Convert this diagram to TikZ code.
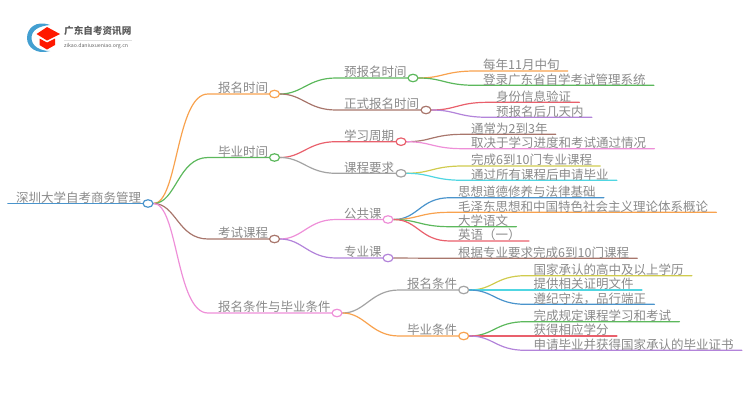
\documentclass[tikz,border=0pt]{standalone}
\usepackage{fontspec}
\setmainfont{Noto Sans CJK SC}
\usepackage{xcolor}
\usetikzlibrary{backgrounds,shapes.geometric,positioning}
\definecolor{lineblue}{HTML}{4A94CC}
\definecolor{lineorange}{HTML}{F8A24E}
\definecolor{linegreen}{HTML}{5CB85C}
\definecolor{linebrown}{HTML}{A8766C}
\definecolor{linered}{HTML}{E9606C}
\definecolor{linepurple}{HTML}{B384DA}
\definecolor{linepink}{HTML}{EE8FD8}
\definecolor{linegray}{HTML}{A3A3A3}
\definecolor{lineyellow}{HTML}{D0CB4E}
\definecolor{linecyan}{HTML}{50D6E2}
\definecolor{labelgray}{HTML}{8A8A8A}
\tikzset{
  topic/.style={font=\fontsize{12.5}{14}\selectfont, text=labelgray, anchor=south west, inner xsep=8, inner ysep=0, text height=11, text depth=1},
  hub/.style={ellipse, draw=#1, fill=white, line width=1.2, minimum width=10, minimum height=7.5, inner sep=0},
  link/.style={draw=#1, line width=1.2, line cap=round},
}
\begin{document}
\begin{tikzpicture}[x=1pt,y=-1pt]
\useasboundingbox (0,0) rectangle (750,410);

% logo
\node[inner sep=0, anchor=west, font=\fontsize{9.6}{11}\bfseries\selectfont, text=black!65] (brand) at (64,31) {广东自考资讯网};
\node[inner sep=0, anchor=west, font=\fontsize{5.2}{6}\selectfont, text=black!60] (site) at (64,46.5) {zikao.daniuxueniao.org.cn};
\draw[black!12, line width=0.5] (brand.west |- 0,40) -- (brand.east |- 0,40);
\fill[lineblue!90!cyan] (50,25) .. controls (36,20) and (27,28) .. (27,38) .. controls (27,47) and (36,55) .. (50,51) .. controls (40,51) and (31.5,46) .. (31.5,38) .. controls (31.5,30) and (39,26) .. (50,25) -- cycle;
\fill[red!80!orange] (47,27) -- (60,34) -- (47,40.5) -- (36.5,34) -- cycle;
\fill[red!80!orange] (39.5,38.5) -- (47,42.5) -- (55,38.5) -- (55,45) -- (47,49.5) -- (39.5,45) -- cycle;

% root
\node[topic] (titlenode) at (8,203.5) {深圳大学自考商务管理};
\node[hub=lineblue] (root) at (148,203.5) {};

% first level
\node[hub=lineorange] (signup) at (274.5,94) {};
\node[hub=linegreen] (finish) at (274.5,157.5) {};
\node[hub=linebrown] (exams) at (274.5,239) {};
\node[hub=linepink] (terms) at (337,313) {};
\node[topic, inner xsep=10] (signuptxt) at (208,94) {报名时间};
\node[topic, inner xsep=10] (finishtxt) at (208,157.5) {毕业时间};
\node[topic, inner xsep=10] (examstxt) at (208,239) {考试课程};
\node[topic, inner xsep=10] (termstxt) at (208,313) {报名条件与毕业条件};

% second level
\node[hub=linegreen] (early) at (413,78) {};
\node[hub=linebrown] (formal) at (426,110) {};
\node[hub=linered] (period) at (401,141.7) {};
\node[hub=linegray] (needs) at (401,173.3) {};
\node[hub=linepink] (common) at (388,219.5) {};
\node[hub=linepurple] (major) at (388,258) {};
\node[hub=linegray] (entry) at (463.7,290) {};
\node[hub=lineorange] (leave) at (463.7,336) {};
\node[topic] (earlytxt) at (336,78) {预报名时间};
\node[topic] (formaltxt) at (336,110) {正式报名时间};
\node[topic] (periodtxt) at (336,141.7) {学习周期};
\node[topic] (needstxt) at (336,173.3) {课程要求};
\node[topic] (commontxt) at (336,219.5) {公共课};
\node[topic] (majortxt) at (336,258) {专业课};
\node[topic] (entrytxt) at (399,290) {报名条件};
\node[topic] (leavetxt) at (399,336) {毕业条件};

% leaves
\node[topic] (a1) at (475,71) {每年11月中旬};
\node[topic] (a2) at (475,85.3) {登录广东省自学考试管理系统};
\node[topic] (b1) at (488,102.3) {身份信息验证};
\node[topic] (b2) at (488,117.3) {预报名后几天内};
\node[topic] (c1) at (463,134.3) {通常为2到3年};
\node[topic] (c2) at (463,148.7) {取决于学习进度和考试通过情况};
\node[topic] (d1) at (463,166) {完成6到10门专业课程};
\node[topic] (d2) at (463,180.3) {通过所有课程后申请毕业};
\node[topic] (e1) at (450,197.7) {思想道德修养与法律基础};
\node[topic] (e2) at (450,212.3) {毛泽东思想和中国特色社会主义理论体系概论};
\node[topic] (e3) at (450,226.7) {大学语文};
\node[topic] (e4) at (450,241) {英语（一）};
\node[topic] (f1) at (450,258.3) {根据专业要求完成6到10门课程};
\node[topic] (g1) at (525.5,275.7) {国家承认的高中及以上学历};
\node[topic] (g2) at (525.5,290) {提供相关证明文件};
\node[topic] (g3) at (525.5,304.3) {遵纪守法，品行端正};
\node[topic] (h1) at (525.5,321.7) {完成规定课程学习和考试};
\node[topic] (h2) at (525.5,336) {获得相应学分};
\node[topic] (h3) at (525.5,350.3) {申请毕业并获得国家承认的毕业证书};

\begin{scope}[on background layer]
\draw[link=lineblue, line width=1.6] (titlenode.south west) -- (root);
\draw[link=lineorange] (root) .. controls +(30,0) and +(-32,0) .. (signuptxt.south west) -- (signup);
\draw[link=linegreen] (root) .. controls +(28,0) and +(-30,0) .. (finishtxt.south west) -- (finish);
\draw[link=linebrown] (root) .. controls +(28,0) and +(-30,0) .. (examstxt.south west) -- (exams);
\draw[link=linepink] (root) .. controls +(30,0) and +(-32,0) .. (termstxt.south west) -- (terms);

\draw[link=linegreen] (signup) .. controls +(28,0) and +(-28,0) .. (earlytxt.south west) -- (early);
\draw[link=linebrown] (signup) .. controls +(28,0) and +(-28,0) .. (formaltxt.south west) -- (formal);
\draw[link=linered] (finish) .. controls +(28,0) and +(-28,0) .. (periodtxt.south west) -- (period);
\draw[link=linegray] (finish) .. controls +(28,0) and +(-28,0) .. (needstxt.south west) -- (needs);
\draw[link=linepink] (exams) .. controls +(28,0) and +(-28,0) .. (commontxt.south west) -- (common);
\draw[link=linepurple] (exams) .. controls +(28,0) and +(-28,0) .. (majortxt.south west) -- (major);
\draw[link=linegray] (terms) .. controls +(28,0) and +(-28,0) .. (entrytxt.south west) -- (entry);
\draw[link=lineorange] (terms) .. controls +(28,0) and +(-28,0) .. (leavetxt.south west) -- (leave);

\draw[link=lineorange] (early) .. controls +(30,0) and +(-30,0) .. (a1.south west) -- (a1.south east);
\draw[link=linegreen] (early) .. controls +(30,0) and +(-30,0) .. (a2.south west) -- (a2.south east);
\draw[link=linered] (formal) .. controls +(30,0) and +(-30,0) .. (b1.south west) -- (b1.south east);
\draw[link=linepurple] (formal) .. controls +(30,0) and +(-30,0) .. (b2.south west) -- (b2.south east);
\draw[link=linebrown] (period) .. controls +(30,0) and +(-30,0) .. (c1.south west) -- (c1.south east);
\draw[link=linepink] (period) .. controls +(30,0) and +(-30,0) .. (c2.south west) -- (c2.south east);
\draw[link=lineyellow] (needs) .. controls +(30,0) and +(-30,0) .. (d1.south west) -- (d1.south east);
\draw[link=linecyan] (needs) .. controls +(30,0) and +(-30,0) .. (d2.south west) -- (d2.south east);
\draw[link=lineblue] (common) .. controls +(30,0) and +(-30,0) .. (e1.south west) -- (e1.south east);
\draw[link=lineorange] (common) .. controls +(30,0) and +(-30,0) .. (e2.south west) -- (e2.south east);
\draw[link=linegreen] (common) .. controls +(30,0) and +(-30,0) .. (e3.south west) -- (e3.south east);
\draw[link=linered] (common) .. controls +(30,0) and +(-30,0) .. (e4.south west) -- (e4.south east);
\draw[link=linebrown] (major) -- (f1.south west) -- (f1.south east);
\draw[link=lineyellow] (entry) .. controls +(30,0) and +(-30,0) .. (g1.south west) -- (g1.south east);
\draw[link=linecyan] (entry) -- (g2.south west) -- (g2.south east);
\draw[link=lineblue] (entry) .. controls +(30,0) and +(-30,0) .. (g3.south west) -- (g3.south east);
\draw[link=linegreen] (leave) .. controls +(30,0) and +(-30,0) .. (h1.south west) -- (h1.south east);
\draw[link=linered] (leave) -- (h2.south west) -- (h2.south east);
\draw[link=linepurple] (leave) .. controls +(30,0) and +(-30,0) .. (h3.south west) -- (h3.south east);
\end{scope}
\end{tikzpicture}
\end{document}
